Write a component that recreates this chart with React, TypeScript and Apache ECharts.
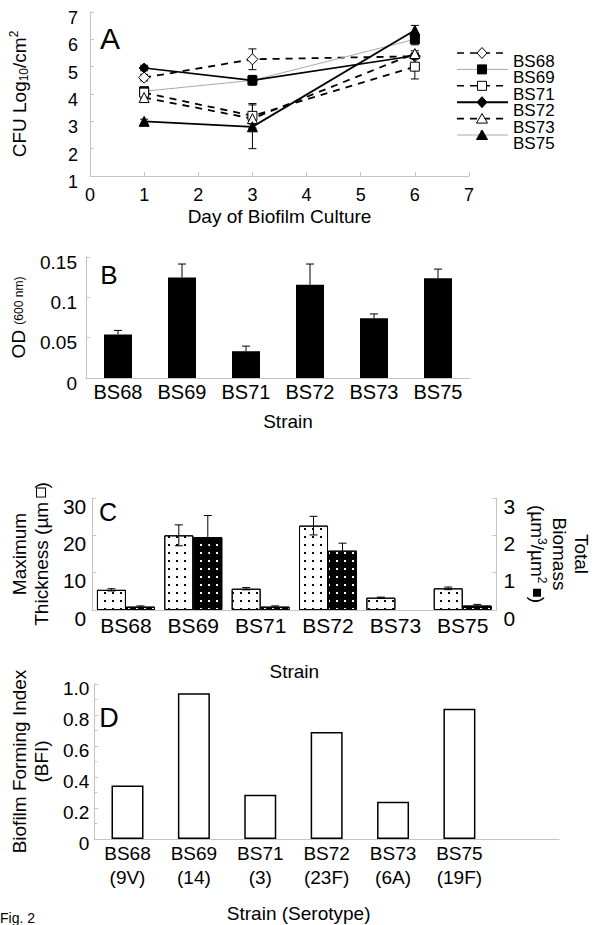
import React, { useEffect, useRef } from 'react';
import * as echarts from 'echarts';

// ---------- data ----------
const strains = ['BS68', 'BS69', 'BS71', 'BS72', 'BS73', 'BS75'];
const serotypes = ['9V', '14', '3', '23F', '6A', '19F'];
const days = [1, 3, 6];

// Panel A: CFU log10/cm2 per day (1, 3, 6) and error half-widths
const cfuBS68 = [4.6, 5.27, 5.38];
const cfuBS69 = [4.1, 4.5, 6.0];
const cfuBS71 = [4.05, 3.2, 5.0];
const cfuBS72 = [4.95, 4.5, 5.4];
const cfuBS73 = [3.87, 3.1, 5.48];
const cfuBS75 = [3.0, 2.8, 6.33];
const errBS68 = [0.12, 0.38, 0.1];
const errBS69 = [0.1, 0.18, 0.2];
const errBS71 = [0.2, 0.45, 0.45];
const errBS72 = [0.1, 0.1, 0.1];
const errBS73 = [0.18, 0.2, 0.1];
const errBS75 = [0.08, 0.8, 0.18];
const cfuValues = [cfuBS68, cfuBS69, cfuBS71, cfuBS72, cfuBS73, cfuBS75];
const cfuErrors = [errBS68, errBS69, errBS71, errBS72, errBS73, errBS75];

// Panel B: OD (600 nm)
const odValues = [0.054, 0.1247, 0.0332, 0.1155, 0.074, 0.1238];
const odErrors = [0.005, 0.0166, 0.0063, 0.0258, 0.0054, 0.0112];

// Panel C: maximum thickness (µm) and total biomass (µm3/µm2)
const thickness = [5.4, 20.0, 5.7, 22.6, 3.3, 5.8];
const thicknessErr = [0.3, 2.8, 0.3, 2.5, 0.15, 0.35];
const biomass = [0.09, 1.95, 0.09, 1.59, null, 0.12];
const biomassErr = [0.02, 0.58, 0.02, 0.2, 0, 0.03];

// Panel D: biofilm forming index
const bfi = [0.345, 0.94, 0.285, 0.69, 0.24, 0.84];

// ---------- styling ----------
const FONT = '"Liberation Sans", Arial, sans-serif';
const AXIS_GRAY = '#c4c4c4';

type LegendStyle = { dash: number[] | null; color: string; width: number; symbol: string; fill: boolean; plotColor: string; plotWidth: number; size: number };
const strainStyles: LegendStyle[] = [
  { dash: [7, 6], color: '#000', width: 1.6, symbol: 'diamond', fill: false, plotColor: '#000', plotWidth: 1.8, size: 11 },
  { dash: null, color: '#aaa', width: 1, symbol: 'rect', fill: true, plotColor: '#aaa', plotWidth: 1, size: 9 },
  { dash: [7, 6], color: '#000', width: 1.6, symbol: 'rect', fill: false, plotColor: '#000', plotWidth: 1.8, size: 9 },
  { dash: null, color: '#000', width: 2, symbol: 'diamond', fill: true, plotColor: '#000', plotWidth: 1.6, size: 10 },
  { dash: [7, 6], color: '#000', width: 1.6, symbol: 'triangle', fill: false, plotColor: '#000', plotWidth: 1.8, size: 10 },
  { dash: null, color: '#aaa', width: 1, symbol: 'triangle', fill: true, plotColor: '#000', plotWidth: 1.8, size: 10 },
];

function axisBase() {
  return {
    axisLine: { show: true, lineStyle: { color: AXIS_GRAY, width: 1 } },
    axisTick: { show: true, inside: true, length: 4, lineStyle: { color: AXIS_GRAY } },
    splitLine: { show: false },
  };
}

function errRender(offset: number, capHalf: number, upOnly: boolean) {
  return (params: any, api: any) => {
    const x = api.value(0);
    const y = api.value(1);
    const e = api.value(2);
    if (y == null || isNaN(y)) return null;
    const top = api.coord([x, y + e]);
    const bot = api.coord([x, upOnly ? y : y - e]);
    const cx = top[0] + offset;
    const style = { stroke: '#000', lineWidth: 1 };
    const children: any[] = [
      { type: 'line', shape: { x1: cx, y1: top[1], x2: cx, y2: bot[1] }, style },
      { type: 'line', shape: { x1: cx - capHalf, y1: top[1], x2: cx + capHalf, y2: top[1] }, style },
    ];
    if (!upOnly) {
      children.push({ type: 'line', shape: { x1: cx - capHalf, y1: bot[1], x2: cx + capHalf, y2: bot[1] }, style });
    }
    return { type: 'group', children };
  };
}

function markerGraphic(symbol: string, fill: boolean, cx: number, cy: number) {
  const style = { fill: fill ? '#000' : '#fff', stroke: '#000', lineWidth: 1 };
  if (symbol === 'rect') {
    return { type: 'rect', shape: { x: cx - 4.5, y: cy - 4.5, width: 9, height: 9 }, style, z: 10 };
  }
  if (symbol === 'diamond') {
    return { type: 'polygon', shape: { points: [[cx, cy - 5.5], [cx + 5, cy], [cx, cy + 5.5], [cx - 5, cy]] }, style, z: 10 };
  }
  return { type: 'polygon', shape: { points: [[cx, cy - 5], [cx + 5.5, cy + 4.5], [cx - 5.5, cy + 4.5]] }, style, z: 10 };
}

function txt(text: string, x: number, y: number, fontSize: number, align = 'center', lineHeight?: number) {
  return {
    type: 'text',
    x,
    y,
    z: 10,
    style: {
      text,
      fontSize,
      fontFamily: FONT,
      fill: '#000',
      align,
      textAlign: align,
      verticalAlign: 'middle',
      textVerticalAlign: 'middle',
      lineHeight: lineHeight || fontSize + 2,
    },
  };
}

function buildOption() {
  const series: any[] = [];

  // Panel A lines
  strains.forEach((s, i) => {
    const st = strainStyles[i];
    series.push({
      type: 'custom',
      name: s + ' err',
      xAxisIndex: 0,
      yAxisIndex: 0,
      z: 1,
      encode: { x: 0, y: 1 },
      renderItem: errRender(0, 4, false),
      data: days.map((d, k) => [d, cfuValues[i][k], cfuErrors[i][k]]),
    });
    series.push({
      type: 'line',
      name: s,
      xAxisIndex: 0,
      yAxisIndex: 0,
      z: 3,
      symbol: st.symbol,
      symbolSize: st.size,
      data: days.map((d, k) => [d, cfuValues[i][k]]),
      lineStyle: { color: st.plotColor, width: st.plotWidth, type: st.dash ? st.dash : 'solid' },
      itemStyle: { color: st.fill ? '#000' : '#fff', borderColor: '#000', borderWidth: 1 },
    });
  });

  // Panel B
  series.push({
    type: 'bar',
    name: 'OD',
    xAxisIndex: 1,
    yAxisIndex: 1,
    barWidth: 28,
    itemStyle: { color: '#000' },
    data: odValues,
  });
  series.push({
    type: 'custom',
    xAxisIndex: 1,
    yAxisIndex: 1,
    z: 5,
    encode: { x: 0, y: 1 },
    renderItem: errRender(0, 4, true),
    data: odValues.map((v, i) => [i, v, odErrors[i]]),
  });

  // Panel C
  series.push({
    type: 'bar',
    name: 'Maximum Thickness',
    xAxisIndex: 2,
    yAxisIndex: 2,
    barWidth: 29,
    barGap: '0%',
    itemStyle: {
      color: '#fff',
      borderColor: '#000',
      borderWidth: 1,
      decal: { symbol: 'rect', symbolSize: 1, color: '#000', dashArrayX: [1.4, 6], dashArrayY: [1.4, 6], rotation: 0 },
    },
    data: thickness,
  });
  series.push({
    type: 'bar',
    name: 'Total Biomass',
    xAxisIndex: 2,
    yAxisIndex: 3,
    barWidth: 29,
    barGap: '0%',
    itemStyle: {
      color: '#000',
      borderColor: '#000',
      borderWidth: 1,
      decal: { symbol: 'rect', symbolSize: 1, color: '#fff', dashArrayX: [1.4, 5.5], dashArrayY: [1.4, 5.5], rotation: 0 },
    },
    data: biomass,
  });
  series.push({
    type: 'custom',
    xAxisIndex: 2,
    yAxisIndex: 2,
    z: 5,
    encode: { x: 0, y: 1 },
    renderItem: errRender(-14.5, 4, false),
    data: thickness.map((v, i) => [i, v, thicknessErr[i]]),
  });
  series.push({
    type: 'custom',
    xAxisIndex: 2,
    yAxisIndex: 3,
    z: 5,
    encode: { x: 0, y: 1 },
    renderItem: errRender(14.5, 4, false),
    data: biomass.map((v, i) => [i, v, biomassErr[i]]).filter((d) => d[1] != null),
  });

  // Panel D
  series.push({
    type: 'bar',
    name: 'BFI',
    xAxisIndex: 3,
    yAxisIndex: 4,
    barWidth: 32,
    itemStyle: { color: '#fff', borderColor: '#000', borderWidth: 1.5 },
    data: bfi,
  });

  // Graphic: legend for A, panel letters, figure label
  const graphic: any[] = [];
  strains.forEach((s, i) => {
    const st = strainStyles[i];
    const y = 53 + i * 16.4;
    graphic.push({
      type: 'line',
      shape: { x1: 457, y1: y, x2: 508, y2: y },
      style: { stroke: st.color, lineWidth: st.width, lineDash: st.dash || null },
      z: 9,
    });
    graphic.push(markerGraphic(st.symbol, st.fill, 482, y));
    graphic.push(txt(s, 513, y + 8.5, 17, 'left', 15));
  });
  graphic.push(txt('A', 110, 38, 30));
  graphic.push(txt('B', 109, 275, 26));
  graphic.push(txt('C', 108, 512, 25));
  graphic.push(txt('D', 109, 718, 27));
  graphic.push(txt('Fig. 2', 0, 918, 14, 'left', 14));

  const catLabel = (fs: number) => ({ color: '#000', fontSize: fs, fontFamily: FONT });
  // y labels sit a little below their ticks, as in the reference
  const yLabel = (fs: number, margin: number, shift: number) => ({
    color: '#000',
    fontSize: fs,
    fontFamily: FONT,
    margin,
    verticalAlign: 'top',
    lineHeight: shift * 2,
  });

  return {
    animation: false,
    backgroundColor: '#fff',
    textStyle: { fontFamily: FONT, color: '#000' },
    grid: [
      { left: 88, top: 12, width: 381, height: 164 },
      { left: 86, top: 257, width: 384, height: 121 },
      { left: 86, top: 498, width: 413, height: 112 },
      { left: 88, top: 684, width: 471, height: 155 },
    ],
    xAxis: [
      {
        ...axisBase(),
        type: 'value',
        gridIndex: 0,
        min: 0,
        max: 7,
        interval: 1,
        axisLabel: { color: '#000', fontSize: 18, margin: 10 },
        name: 'Day of Biofilm Culture',
        nameLocation: 'middle',
        nameGap: 31,
        nameTextStyle: { fontSize: 19, color: '#000' },
      },
      {
        ...axisBase(),
        type: 'category',
        gridIndex: 1,
        data: strains,
        axisTick: { show: false },
        axisLabel: { ...catLabel(20), margin: 4 },
        name: 'Strain',
        nameLocation: 'middle',
        nameGap: 34,
        nameTextStyle: { fontSize: 19, color: '#000', padding: [0, 0, 0, 20] },
      },
      {
        ...axisBase(),
        type: 'category',
        gridIndex: 2,
        data: strains,
        axisTick: { show: false },
        axisLabel: { ...catLabel(21), margin: 5 },
        name: 'Strain',
        nameLocation: 'middle',
        nameGap: 52,
        nameTextStyle: { fontSize: 19, color: '#000' },
      },
      {
        ...axisBase(),
        type: 'category',
        gridIndex: 3,
        data: [...strains, ''],
        axisTick: { show: false },
        axisLabel: {
          ...catLabel(19),
          margin: 2,
          lineHeight: 24,
          interval: 0,
          formatter: (v: string, idx: number) => (v ? `${v}\n(${serotypes[idx]})` : ''),
        },
        name: 'Strain (Serotype)',
        nameLocation: 'middle',
        nameGap: 65,
        nameTextStyle: { fontSize: 19, color: '#000', padding: [0, 56, 0, 0] },
      },
    ],
    yAxis: [
      {
        ...axisBase(),
        type: 'value',
        gridIndex: 0,
        min: 1,
        max: 7,
        interval: 1,
        axisLabel: yLabel(18, 12, 6),
        name: 'CFU Log{sub|10}/cm{sup|2}',
        nameLocation: 'middle',
        nameGap: 60,
        nameTextStyle: {
          fontSize: 19,
          color: '#000',
          lineHeight: 22,
          rich: {
            sub: { fontSize: 12, verticalAlign: 'bottom', lineHeight: 22, padding: [6, 0, 0, 0] },
            sup: { fontSize: 12, verticalAlign: 'top', lineHeight: 22 },
          },
        },
      },
      {
        ...axisBase(),
        type: 'value',
        gridIndex: 1,
        min: 0,
        max: 0.15,
        interval: 0.05,
        axisLabel: yLabel(19, 9, 5),
        name: 'OD {s|(600 nm)}',
        nameLocation: 'middle',
        nameGap: 58,
        nameTextStyle: {
          fontSize: 19,
          color: '#000',
          rich: { s: { fontSize: 12, fontFamily: FONT } },
        },
      },
      {
        ...axisBase(),
        type: 'value',
        gridIndex: 2,
        min: 0,
        max: 30,
        interval: 10,
        axisLabel: yLabel(21, 6, 8),
        name: 'Maximum\nThickness (µm {box| })',
        nameLocation: 'middle',
        nameGap: 35,
        nameTextStyle: {
          fontSize: 19,
          color: '#000',
          lineHeight: 22,
          rich: { box: { width: 8, height: 8, borderColor: '#000', borderWidth: 1, backgroundColor: '#fff' } },
        },
      },
      {
        ...axisBase(),
        type: 'value',
        gridIndex: 2,
        position: 'right',
        min: 0,
        max: 3,
        interval: 1,
        axisLabel: yLabel(21, 7, 8),
        name: 'Total\nBiomass\n(µm{sp|3}/µm{sp|2} {blk| })',
        nameLocation: 'middle',
        nameRotate: -90,
        nameGap: 27,
        nameTextStyle: {
          fontSize: 19,
          color: '#000',
          lineHeight: 22,
          rich: {
            sp: { fontSize: 12, verticalAlign: 'top', lineHeight: 22 },
            blk: { width: 8, height: 8, backgroundColor: '#000' },
          },
        },
      },
      {
        ...axisBase(),
        type: 'value',
        gridIndex: 3,
        min: 0,
        max: 1,
        interval: 0.2,
        minorTick: { show: true, splitNumber: 2, length: 3, lineStyle: { color: AXIS_GRAY } },
        axisLabel: { ...yLabel(19, 5, 4), formatter: (v: number) => (v === 0 ? '0' : v.toFixed(1)) },
        name: 'Biofilm Forming Index\n(BFI)',
        nameLocation: 'middle',
        nameGap: 38,
        nameTextStyle: { fontSize: 19, color: '#000', lineHeight: 22 },
      },
    ],
    series,
    graphic,
  };
}

export default function App() {
  const ref = useRef<HTMLDivElement>(null);
  useEffect(() => {
    if (!ref.current) return;
    const chart = echarts.init(ref.current, null, { renderer: 'svg' });
    chart.setOption(buildOption() as any);
    return () => chart.dispose();
  }, []);
  return (
    <div
      ref={ref}
      style={{ position: 'absolute', left: 0, top: 0, width: 600, height: 925, background: '#fff' }}
    />
  );
}
